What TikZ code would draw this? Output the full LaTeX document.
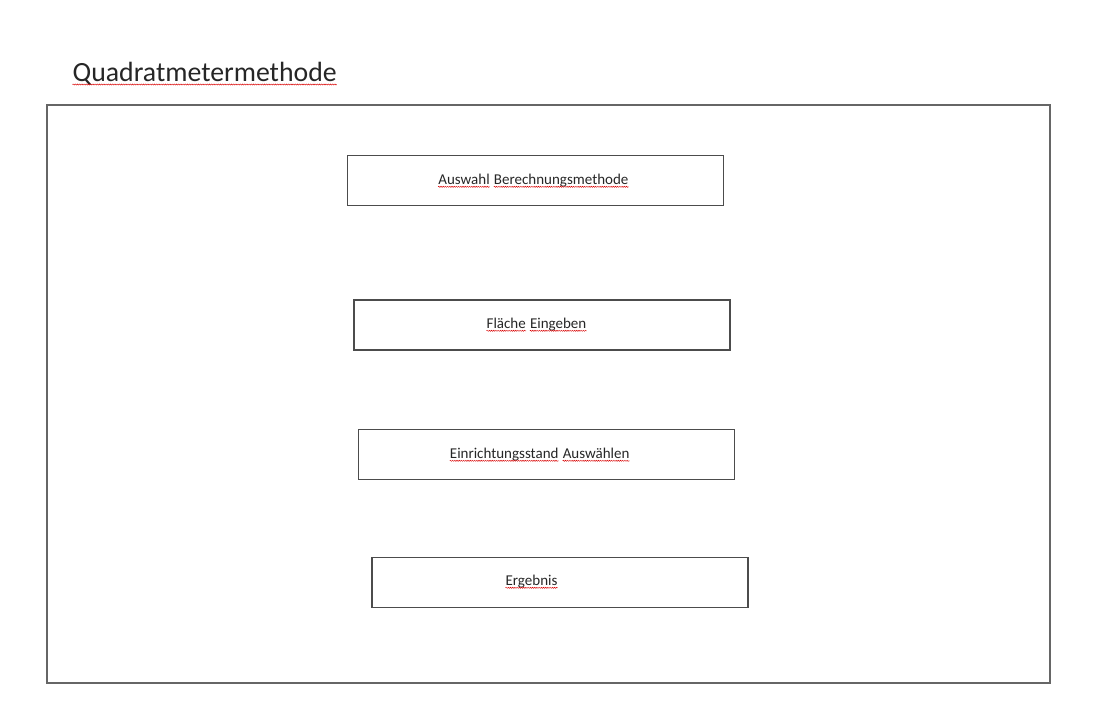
\documentclass[tikz,border=0pt]{standalone}
\usepackage{fontspec}
\setmainfont{Carlito}
\usetikzlibrary{decorations.pathmorphing}

% red spell-check squiggle under a word
\newcommand\spellword[2][2.5pt]{\tikz[baseline=(sw.base)]{\node[inner sep=0pt] (sw) {#2};
  \draw[red!85!black, line width=0.45pt, decorate,
    decoration={snake, amplitude=0.55pt, segment length=2.2pt}]
    ([yshift=-#1]sw.base west) -- ([yshift=-#1]sw.base east);}}

\tikzset{
  frame/.style={draw=black!60, line width=1.1pt},
  stepbox/.style={draw=black!70, line width=1.1pt, minimum width=376pt, minimum height=50pt, inner sep=0pt},
  boxtext/.style={anchor=base west, inner sep=0pt, font=\fontsize{15}{18}\selectfont, text=black!85},
}

\begin{document}
\begin{tikzpicture}[x=1pt, y=-1pt]
\useasboundingbox (0,0) rectangle (1097,724);

% title
\node[anchor=base west, inner sep=0pt, font=\fontsize{27.8}{32}\selectfont, text=black!85] (title)
  at (72,81.5) {\spellword[3pt]{Quadratmetermethode}};

% outer frame
\node[frame, minimum width=1003pt, minimum height=578pt, inner sep=0pt] (rahmen) at (548.5,394) {};

% boxes
\node[stepbox] (auswahl) at (535.7,180.3) {};
\node[stepbox] (flaeche) at (542,325) {};
\node[stepbox] (stand) at (546.7,454.2) {};
\node[stepbox] (ergebnis) at (560,582.5) {};

% box texts
\node[boxtext] (auswahltext) at (437.7,184.3) {\spellword{Auswahl} \spellword{Berechnungsmethode}};
\node[boxtext] (flaechetext) at (486,328.3) {\spellword{Fläche} \spellword{Eingeben}};
\node[boxtext] (standtext) at (449.3,458.3) {\spellword{Einrichtungsstand} \spellword{Auswählen}};
\node[boxtext] (ergebnistext) at (505,585.3) {\spellword{Ergebnis}};
\end{tikzpicture}
\end{document}
